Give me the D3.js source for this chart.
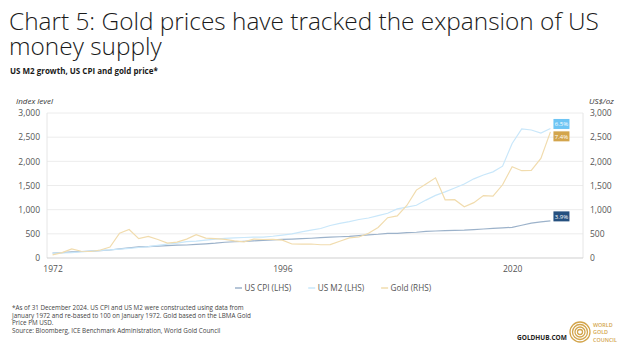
<!DOCTYPE html>
<html><head><meta charset="utf-8">
<script src="https://cdn.jsdelivr.net/npm/d3@7"></script>
<style>body{margin:0;background:#fff}svg{display:block;font-family:"Open Sans",sans-serif}</style>
</head><body><svg id="c" width="627" height="346"></svg>
<script>
const years = d3.range(1972, 2025);
const cpi = [103,112,126,135,142,151,165,187,210,229, 237,246,256,266,269,281,293,307,326,336,
  345,355,364,373,386,392,399,409,423,430, 440,448,463,479,491,511,511,525,533,549,
  559,567,571,575,587,600,611,625,634,678, 722,746,768];
const m2 = [99,106,112,126,143,158,169,183,198,217, 236,263,286,309,338,350,370,391,406,418,
  424,430,432,450,473,500,542,575,611,673, 715,752,796,828,876,926,1016,1053,1091,1198,
  1295,1368,1448,1530,1638,1718,1782,1900,2369,2670, 2649,2583,2680];
const gold = [65,112,187,140,135,165,226,512,590,400, 448,382,309,327,391,484,410,399,386,353,
  333,391,383,387,369,290,288,290,274,277, 347,416,435,513,632,834,870,1087,1405,1531,
  1658,1204,1206,1060,1146,1291,1279,1515,1888,1806, 1812,2062,2610];
const seriesNames = ["US CPI (LHS)", "US M2 (LHS)", "Gold (RHS)"];
const endLabels = ["3.9%", "6.5%", "7.4%"];
const xTicks = [1972, 1996, 2020];
const yTicks = [0, 500, 1000, 1500, 2000, 2500, 3000];

const lineColors = ["#9cb2ca", "#c9e7fa", "#f1dcae"];
const boxColors = ["#25507f", "#6ec5f4", "#d3a54c"];
const boxOffsets = [-4.5, -4.5, 4.5];

const svg = d3.select("#c");
const L = 47, R = 583, T = 113, B = 258;
const x = d3.scaleLinear().domain([1971.42, 2027.4]).range([L, R]);
const yL = d3.scaleLinear().domain([0, 3000]).range([B, T]);
const yR = d3.scaleLinear().domain([0, 3000]).range([B, T]);

// Title (one text element, two lines)
const title = svg.append("text").attr("fill", "#1a1a1a").attr("font-weight", 300).attr("font-size", 24.4)
  .attr("x", 9).attr("y", 30);
title.append("tspan").attr("x", 9).attr("y", 30).text("Chart 5: Gold prices have tracked the expansion of US");
title.append("tspan").attr("x", 9).attr("y", 55).text("money supply");
svg.append("text").attr("x", 10).attr("y", 74).attr("font-size", 8).attr("font-weight", 700)
  .attr("fill", "#1a1a1a").text("US M2 growth, US CPI and gold price*");

// gridlines
svg.append("g").selectAll("line").data(yTicks.slice(1)).join("line")
  .attr("x1", L).attr("x2", R).attr("y1", d => yL(d)).attr("y2", d => yL(d))
  .attr("stroke", "#ececec").attr("stroke-width", 1);
svg.append("line").attr("x1", L).attr("x2", L).attr("y1", T).attr("y2", B).attr("stroke", "#e6e6e6");
svg.append("line").attr("x1", R).attr("x2", R).attr("y1", T).attr("y2", B).attr("stroke", "#e6e6e6");

// axes
const axL = svg.append("g").attr("transform", `translate(${L},0)`)
  .call(d3.axisLeft(yL).tickValues(yTicks).tickSize(0).tickPadding(7).tickFormat(d3.format(",")));
const axR = svg.append("g").attr("transform", `translate(${R},0)`)
  .call(d3.axisRight(yR).tickValues(yTicks).tickSize(0).tickPadding(7).tickFormat(d3.format(",")));
const axB = svg.append("g").attr("transform", `translate(0,${B})`)
  .call(d3.axisBottom(x).tickValues(xTicks).tickSize(0).tickPadding(8).tickFormat(d3.format("d")));
[axL, axR, axB].forEach(a => {
  a.select(".domain").remove();
  a.selectAll("text").attr("font-size", 8.5).attr("fill", "#555").attr("font-family", "Open Sans");
});
svg.append("line").attr("x1", L).attr("x2", R).attr("y1", B).attr("y2", B).attr("stroke", "#cfcfcf");

svg.append("text").attr("x", 16).attr("y", 104).attr("font-size", 8).attr("font-style", "italic")
  .attr("fill", "#333").text("Index level");
svg.append("text").attr("x", 589).attr("y", 104).attr("font-size", 8).attr("font-style", "italic")
  .attr("fill", "#333").text("US$/oz");

// lines
const data = [cpi, m2, gold];
const scales = [yL, yL, yR];
const order = [0, 1, 2];
order.forEach(i => {
  const ln = d3.line().x((d, j) => x(years[j])).y(d => scales[i](d));
  svg.append("path").datum(data[i]).attr("d", ln).attr("fill", "none")
    .attr("stroke", lineColors[i]).attr("stroke-width", 1.2);
});

// end labels
order.forEach(i => {
  const last = data[i][data[i].length - 1];
  const cx = x(years[years.length - 1]) + 3;
  const cy = scales[i](last) + boxOffsets[i];
  svg.append("rect").attr("x", cx).attr("y", cy - 5).attr("width", 16).attr("height", 10).attr("fill", boxColors[i]);
  svg.append("text").attr("x", cx + 8).attr("y", cy + 2.2).attr("text-anchor", "middle")
    .attr("font-size", 6).attr("fill", "#fff").text(endLabels[i]);
});

// legend
const lg = svg.append("g").attr("font-size", 8.2).attr("fill", "#555");
let lx = 235;
seriesNames.forEach((n, i) => {
  lg.append("line").attr("x1", lx).attr("x2", lx + 7).attr("y1", 288).attr("y2", 288)
    .attr("stroke", lineColors[i]).attr("stroke-width", 1.5);
  const t = lg.append("text").attr("x", lx + 9.5).attr("y", 291).text(n);
  lx += 9.5 + t.node().getComputedTextLength() + 17;
});

// footnote
const notes = ["*As of 31 December 2024. US CPI and US M2 were constructed using data from",
  "January 1972 and re-based to 100 on January 1972. Gold based on the LBMA Gold",
  "Price PM USD.",
  "Source: Bloomberg, ICE Benchmark Administration, World Gold Council"];
svg.append("g").attr("font-size", 6.3).attr("fill", "#444").selectAll("text").data(notes).join("text")
  .attr("x", 12).attr("y", (d, i) => 310 + i * 7.6).text(d => d);

svg.append("text").attr("x", 517).attr("y", 340).attr("font-size", 6.5).attr("font-weight", 700)
  .attr("fill", "#222").text("GOLDHUB.COM");
// logo
const lgC = svg.append("g").attr("transform", "translate(580,332)");
[10, 7.5, 5, 2.5].forEach(r => lgC.append("circle").attr("r", r).attr("fill", "none")
  .attr("stroke", "#d3a54c").attr("stroke-width", 1.3));
const wt = svg.append("g").attr("font-size", 5.4).attr("fill", "#d3a54c").attr("font-weight", 600);
["WORLD", "GOLD", "COUNCIL"].forEach((t, i) => wt.append("text").attr("x", 593).attr("y", 327 + i * 7.3).text(t));
</script></body></html>
